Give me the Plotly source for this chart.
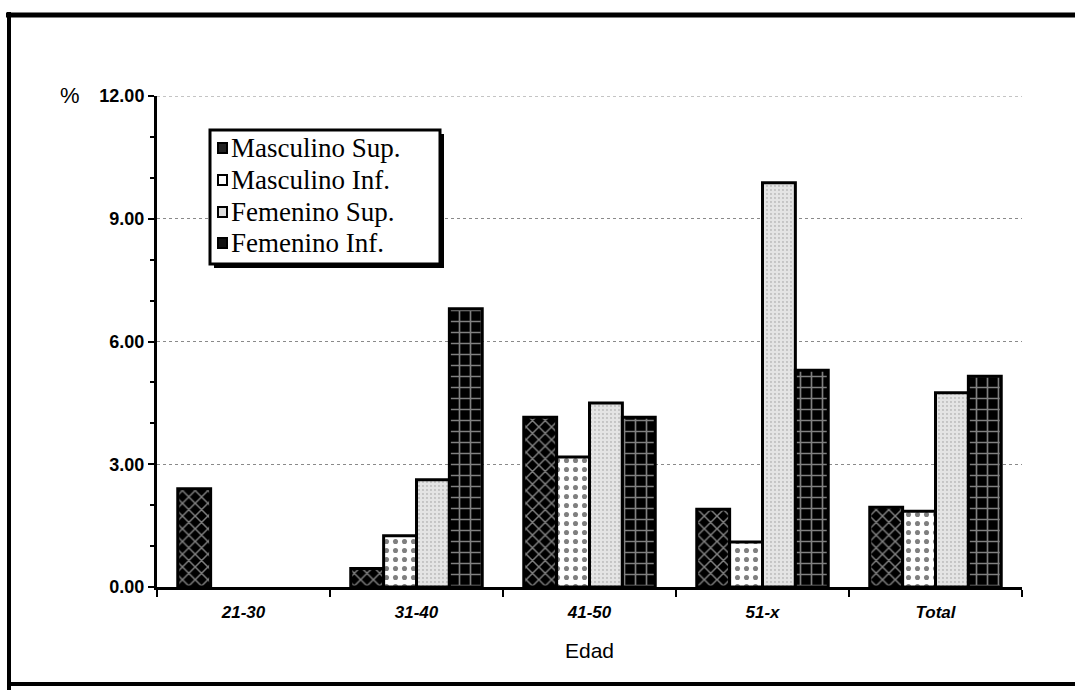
import plotly.graph_objects as go

# Age groups and percentage values per group
edades = ["21-30", "31-40", "41-50", "51-x", "Total"]
masculino_sup = [2.40, 0.45, 4.15, 1.90, 1.95]
masculino_inf = [0.00, 1.25, 3.18, 1.10, 1.85]
femenino_sup = [0.00, 2.62, 4.50, 9.88, 4.75]
femenino_inf = [0.00, 6.80, 4.15, 5.30, 5.15]
series_names = ["Masculino Sup.", "Masculino Inf.", "Femenino Sup.", "Femenino Inf."]
y_ticks = [0, 3, 6, 9, 12]
y_tick_labels = ["0.00", "3.00", "6.00", "9.00", "12.00"]

W, H = 1075, 696
L, R, T, B = 157, 53, 96, 109
PW, PH = W - L - R, H - T - B


def px_x(p):
    return (p - L) / PW


def px_y(p):
    return (H - B - p) / PH


patterns = [
    dict(shape="x", bgcolor="black", fgcolor="white", size=9, solidity=0.3),
    dict(shape=".", bgcolor="white", fgcolor="black", size=9, solidity=0.25),
    dict(shape=".", bgcolor="#e4e4e4", fgcolor="#444444", size=4, solidity=0.1),
    dict(shape="+", bgcolor="black", fgcolor="white", size=11, solidity=0.28),
]
swatch_fill = ["#222222", "white", "#dddddd", "#111111"]

fig = go.Figure()
for name, vals, pat in zip(series_names,
                           [masculino_sup, masculino_inf, femenino_sup, femenino_inf],
                           patterns):
    fig.add_trace(go.Bar(
        name=name, x=edades, y=vals,
        marker=dict(color=pat["bgcolor"], pattern=pat,
                    line=dict(color="black",
                              width=[3 if v > 0 else 0 for v in vals])),
    ))

shapes = [
    # outer frame: top, left and bottom rules
    dict(type="line", xref="paper", yref="paper",
         x0=px_x(6), x1=px_x(1075), y0=px_y(15), y1=px_y(15),
         line=dict(color="black", width=5)),
    dict(type="line", xref="paper", yref="paper",
         x0=px_x(9), x1=px_x(9), y0=px_y(12), y1=px_y(690),
         line=dict(color="black", width=4)),
    dict(type="line", xref="paper", yref="paper",
         x0=px_x(9), x1=px_x(1075), y0=px_y(684), y1=px_y(684),
         line=dict(color="black", width=4)),
    # top grid rule at 12.00
    dict(type="line", xref="paper", yref="y", x0=0, x1=1, y0=12, y1=12,
         line=dict(color="#8a8a8a", width=1, dash="dot")),
    # legend box with drop shadow
    dict(type="rect", xref="paper", yref="paper",
         x0=px_x(214), x1=px_x(444), y0=px_y(134), y1=px_y(268),
         fillcolor="black", line=dict(width=0)),
    dict(type="rect", xref="paper", yref="paper",
         x0=px_x(210), x1=px_x(440), y0=px_y(130), y1=px_y(264),
         fillcolor="white", line=dict(color="black", width=3)),
]

annotations = [
    dict(text="%", xref="paper", yref="paper", x=px_x(70), y=px_y(95),
         showarrow=False, xanchor="center", yanchor="middle",
         font=dict(family="Liberation Sans", size=22, color="black")),
]

row_y = [148, 180, 212, 243]
for name, ry, fill in zip(series_names, row_y, swatch_fill):
    shapes.append(dict(type="rect", xref="paper", yref="paper",
                       x0=px_x(218), x1=px_x(227), y0=px_y(ry - 5), y1=px_y(ry + 5),
                       fillcolor=fill, line=dict(color="black", width=2)))
    annotations.append(dict(text=name, xref="paper", yref="paper",
                            x=px_x(230), y=px_y(ry), showarrow=False,
                            xanchor="left", yanchor="middle", borderpad=0,
                            font=dict(family="Liberation Serif", size=27,
                                      color="black")))

fig.update_layout(
    width=W, height=H,
    margin=dict(l=L, r=R, t=T, b=B),
    paper_bgcolor="white", plot_bgcolor="white",
    barmode="group", bargap=0.24, bargroupgap=0.0,
    showlegend=False,
    xaxis=dict(
        showline=True, linecolor="black", linewidth=3,
        ticks="outside", tickson="boundaries", ticklen=7, tickwidth=2,
        tickcolor="black", ticklabelstandoff=8,
        tickfont=dict(family="Liberation Sans", size=17, color="black",
                      weight="bold", style="italic"),
        title=dict(text="Edad", standoff=22,
                   font=dict(family="Liberation Sans", size=21, color="black")),
        showgrid=False,
    ),
    yaxis=dict(
        range=[0, 12], tickvals=y_ticks, ticktext=y_tick_labels,
        showline=True, linecolor="black", linewidth=3,
        ticks="outside", ticklen=6, tickwidth=2, tickcolor="black",
        minor=dict(dtick=1, ticks="outside", ticklen=4, tickcolor="black",
                   showgrid=False),
        tickfont=dict(family="Liberation Sans", size=18, color="black",
                      weight="bold"),
        showgrid=True, gridcolor="#8a8a8a", griddash="dot", gridwidth=1,
        zeroline=False,
    ),
    shapes=shapes,
    annotations=annotations,
)

fig.write_html("out.html")
